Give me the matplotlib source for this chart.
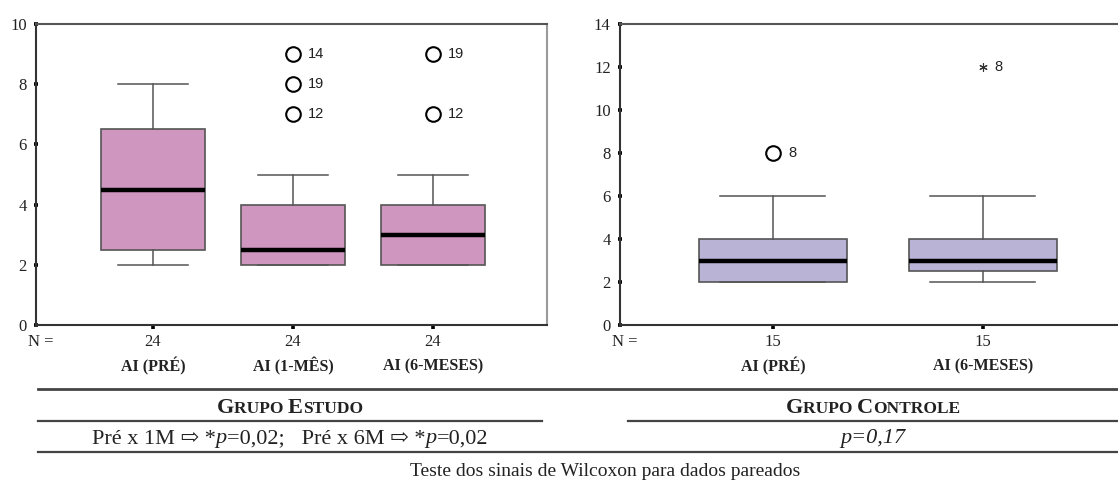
import matplotlib
matplotlib.use("Agg")
import matplotlib.pyplot as plt
from matplotlib.lines import Line2D
from matplotlib.offsetbox import TextArea, HPacker, AnnotationBbox

# ---- data -------------------------------------------------------------
estudo_labels = ["AI (PRÉ)", "AI (1-MÊS)", "AI (6-MESES)"]
estudo_n = [24, 24, 24]
estudo_whislo = [2, 2, 2]
estudo_q1 = [2.5, 2, 2]
estudo_med = [4.5, 2.5, 3]
estudo_q3 = [6.5, 4, 4]
estudo_whishi = [8, 5, 5]
# outliers: (group index, value, case id)
estudo_out_group = [2, 2, 2, 3, 3]
estudo_out_value = [9, 8, 7, 9, 7]
estudo_out_case = ["14", "19", "12", "19", "12"]

controle_labels = ["AI (PRÉ)", "AI (6-MESES)"]
controle_n = [15, 15]
controle_whislo = [2, 2]
controle_q1 = [2, 2.5]
controle_med = [3, 3]
controle_q3 = [4, 4]
controle_whishi = [6, 6]
controle_out_group = [1]
controle_out_value = [8]
controle_out_case = ["8"]
controle_ext_group = [2]
controle_ext_value = [12]
controle_ext_case = ["8"]

# ---- figure -------------------------------------------------------------
W, H = 1118, 480
fig = plt.figure(figsize=(W / 100, H / 100), dpi=100)
fig.patch.set_facecolor("white")

SERIF = ["Liberation Serif", "DejaVu Serif"]
SANS = ["Liberation Sans", "DejaVu Sans"]


def fx(px):
    return px / W


def fy(py):
    return 1 - py / H


def make_stats(whislo, q1, med, q3, whishi):
    return [dict(whislo=a, q1=b, med=c, q3=d, whishi=e, fliers=[])
            for a, b, c, d, e in zip(whislo, q1, med, q3, whishi)]


def style_axes(ax, ymax, n_values, names, spine_px):
    ax.set_ylim(0, ymax)
    ax.set_yticks(range(0, ymax + 1, 2))
    ax.set_xticks(range(1, len(n_values) + 1))
    ax.set_xticklabels([str(v) for v in n_values])
    for lab in ax.get_xticklabels() + ax.get_yticklabels():
        lab.set_family(SERIF)
        lab.set_fontsize(12)
        lab.set_color("#222222")
    ax.tick_params(axis="y", direction="inout", length=3.5, width=2.6,
                   color="black", pad=5)
    ax.tick_params(axis="x", direction="out", length=3, width=2.6,
                   color="black", pad=3.5)
    ax.spines["left"].set_color("#333333")
    ax.spines["bottom"].set_color("#333333")
    ax.spines["top"].set_color("#555555")
    ax.spines["right"].set_color("#9a9a9a")
    for s in ax.spines.values():
        s.set_linewidth(1.5)
    for i, name in enumerate(names):
        ax.annotate(name, xy=(i + 1, H - 366.5), xycoords=("data", "figure pixels"),
                    ha="center", va="center", fontsize=11.5, fontweight="bold",
                    family=SERIF, color="#222222", annotation_clip=False)
    fig.text(fx(spine_px + 5), fy(341.5), "N =", ha="center", va="center",
             fontsize=12, family=SERIF, color="#222222")


def draw_boxes(ax, stats, width, color):
    ax.bxp(stats, positions=range(1, len(stats) + 1), widths=width,
           capwidths=0.5, showfliers=False, patch_artist=True,
           boxprops=dict(facecolor=color, edgecolor="#555555", linewidth=1.2),
           whiskerprops=dict(color="#555555", linewidth=1.1),
           capprops=dict(color="#555555", linewidth=1.1),
           medianprops=dict(color="black", linewidth=3.2, solid_capstyle="butt"))


def label_points(ax, groups, values, cases, dx):
    for g, v, c in zip(groups, values, cases):
        ax.annotate(c, xy=(g, v), xytext=(dx, 0), textcoords="offset pixels",
                    ha="left", va="center", fontsize=10.5, family=SANS,
                    color="#222222")


# Left panel: study group
ax1 = fig.add_axes([fx(36), fy(325), fx(547 - 36), (325 - 24) / H])
draw_boxes(ax1, make_stats(estudo_whislo, estudo_q1, estudo_med, estudo_q3,
                           estudo_whishi), 0.74, "#cf97bf")
ax1.plot(estudo_out_group, estudo_out_value, linestyle="none", marker="o",
         markersize=10.5, markerfacecolor="white", markeredgecolor="black",
         markeredgewidth=1.5)
label_points(ax1, estudo_out_group, estudo_out_value, estudo_out_case, 15)
ax1.set_xlim(0.164, 3.814)
style_axes(ax1, 10, estudo_n, estudo_labels, 36)

# Right panel: control group
ax2 = fig.add_axes([fx(620), fy(325), fx(1135 - 620), (325 - 24) / H])
draw_boxes(ax2, make_stats(controle_whislo, controle_q1, controle_med,
                           controle_q3, controle_whishi), 0.705, "#b9b3d6")
ax2.plot(controle_out_group, controle_out_value, linestyle="none", marker="o",
         markersize=10.5, markerfacecolor="white", markeredgecolor="black",
         markeredgewidth=1.5)
ax2.plot(controle_ext_group, controle_ext_value, linestyle="none",
         marker=(6, 2, 0), markersize=6, markeredgecolor="#333333",
         markeredgewidth=0.8)
label_points(ax2, controle_out_group, controle_out_value, controle_out_case, 15)
label_points(ax2, controle_ext_group, controle_ext_value, controle_ext_case, 11)
ax2.set_xlim(0.2714, 2.724)
style_axes(ax2, 14, controle_n, controle_labels, 620)

# ---- table-like footer ------------------------------------------------------
def hline(x0, x1, y, lw=1.5, color="#444444"):
    fig.add_artist(Line2D([fx(x0), fx(x1)], [fy(y), fy(y)],
                          transform=fig.transFigure, color=color, linewidth=lw))


hline(38, 1118, 388.5, lw=2.0, color="#444444")
hline(38, 542, 420.5, lw=1.6)
hline(628, 1118, 420.5, lw=1.6)
hline(38, 1118, 452, lw=1.6)


def rich_text(parts, x, y):
    boxes = [TextArea(s, textprops=dict(color="#222222", **props)) for s, props in parts]
    pack = HPacker(children=boxes, align="baseline", pad=0, sep=0)
    ab = AnnotationBbox(pack, (fx(x), fy(y)), xycoords="figure fraction",
                        frameon=False, box_alignment=(0.5, 0.5), pad=0)
    fig.add_artist(ab)


big = dict(family=SERIF, fontsize=16, fontweight="bold")
small = dict(family=SERIF, fontsize=12.5, fontweight="bold")
rich_text([("G", big), ("RUPO ", small), ("E", big), ("STUDO", small)], 290, 408)
rich_text([("G", big), ("RUPO ", small), ("C", big), ("ONTROLE", small)], 873, 408)

reg = dict(family=SERIF + ["DejaVu Sans"], fontsize=16)
ita = dict(family=SERIF, fontsize=16, style="italic")
rich_text([("Pré x 1M ⇨ *", reg), ("p", ita), ("=0,02;   Pré x 6M ⇨ *", reg),
           ("p", ita), ("=0,02", reg)], 290, 439)
rich_text([("p=0,17", ita)], 873, 439)

fig.text(fx(605), fy(472), "Teste dos sinais de Wilcoxon para dados pareados",
         ha="center", va="center", fontsize=14, family=SERIF, color="#222222")

fig.savefig("out.png", dpi=100, facecolor="white")
